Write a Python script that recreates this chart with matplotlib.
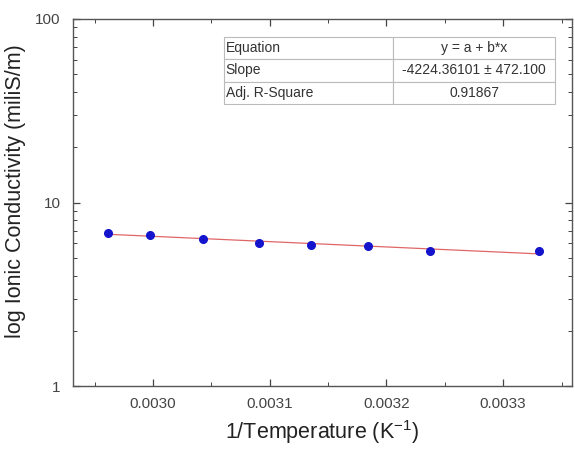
import matplotlib.pyplot as plt
import numpy as np
from matplotlib.ticker import MultipleLocator, FixedLocator, LogLocator, NullFormatter

plt.rcParams["font.family"] = ["Liberation Sans", "DejaVu Sans"]
plt.rcParams["mathtext.fontset"] = "custom"
plt.rcParams["mathtext.rm"] = "Liberation Sans"
plt.rcParams["mathtext.default"] = "regular"

inv_temp = [0.002961, 0.002997, 0.003043, 0.003091, 0.003135, 0.003184, 0.003237, 0.003331]
conductivity = [6.85, 6.62, 6.36, 6.02, 5.90, 5.76, 5.47, 5.42]

table_rows = [
    ["Equation", "y = a + b*x"],
    ["Slope", "-4224.36101 \u00b1 472.100"],
    ["Adj. R-Square", "0.91867"],
]

fig = plt.figure(figsize=(5.75, 4.5), dpi=100)
ax = fig.add_axes([0.127, 0.142, 0.868, 0.816])

# linear fit of log10(conductivity) vs 1/T
x = np.array(inv_temp)
coef = np.polyfit(x, np.log10(conductivity), 1)
ax.plot(x, 10 ** np.polyval(coef, x), color="#e06666", lw=0.9, zorder=2)
ax.plot(inv_temp, conductivity, "o", color="#1414cc", ms=5.5, zorder=3)

ax.set_yscale("log")
ax.set_ylim(1, 100)
ax.set_xlim(0.0029314, 0.0033591)
ax.xaxis.set_major_locator(FixedLocator([0.0030, 0.0031, 0.0032, 0.0033]))
ax.xaxis.set_minor_locator(MultipleLocator(0.00005))
ax.set_xticklabels(["0.0030", "0.0031", "0.0032", "0.0033"])
ax.yaxis.set_major_locator(FixedLocator([1, 10, 100]))
ax.set_yticklabels(["1", "10", "100"])
ax.yaxis.set_minor_locator(LogLocator(base=10, subs=np.arange(2, 10)))
ax.yaxis.set_minor_formatter(NullFormatter())

ax.tick_params(which="both", direction="in", top=True, right=True, labelsize=11, colors="#444444")
ax.tick_params(which="major", length=5, width=0.9)
ax.tick_params(axis="x", which="major", pad=8)
ax.tick_params(axis="y", which="major", pad=9)
ax.tick_params(which="minor", length=3, width=0.7)
for s in ax.spines.values():
    s.set_color("#555555")
    s.set_linewidth(1.0)

ax.set_xlabel("1/Temperature (K$^{-1}$)", fontsize=15.5, color="#222222", labelpad=5)
ax.set_ylabel("log Ionic Conductivity (miliS/m)", fontsize=15.5, color="#222222", labelpad=6)
ax.yaxis.set_label_coords(-0.095, 0.53)

tbl = ax.table(cellText=table_rows, cellLoc="left", bbox=[0.3026, 0.768, 0.6634, 0.183],
               colWidths=[0.51, 0.49])
tbl.auto_set_font_size(False)
tbl.set_fontsize(10)
for (r, c), cell in tbl.get_celld().items():
    cell.PAD = 0.01
    cell.set_edgecolor("#bbbbbb")
    cell.set_linewidth(0.8)
    cell.get_text().set_color("#333333")
    if c == 1:
        cell.get_text().set_horizontalalignment("center")
        cell._loc = "center"

fig.savefig("out.png", dpi=100)
